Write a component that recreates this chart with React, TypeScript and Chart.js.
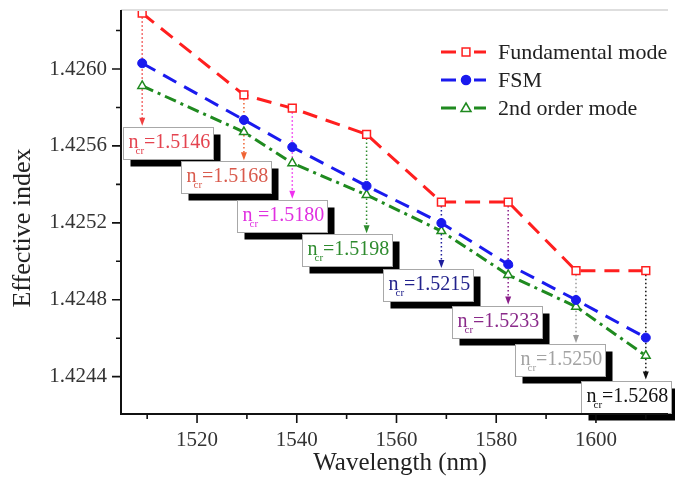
import { useEffect, useRef } from 'react';
import { Chart, registerables } from 'chart.js';

Chart.register(...registerables);

// Wavelength sweep (nm) and effective indices of the three guided modes
const wavelengths = [1509, 1529.4, 1539.1, 1554, 1569, 1582.4, 1596, 1610];
const fundamentalMode = [1.42629, 1.425865, 1.425796, 1.42566, 1.425308, 1.425308, 1.424951, 1.424951];
const fsmMode = [1.42603, 1.425735, 1.425594, 1.425392, 1.425199, 1.424984, 1.424799, 1.424603];
const secondOrderMode = [1.425912, 1.425672, 1.42551, 1.425345, 1.425157, 1.424929, 1.424764, 1.424509];

// Critical cladding index at each wavelength
const criticalIndex = ['1.5146', '1.5168', '1.5180', '1.5198', '1.5215', '1.5233', '1.5250', '1.5268'];

// Axis ticks
const xTickValues = [1510, 1520, 1530, 1540, 1550, 1560, 1570, 1580, 1590, 1600, 1610];
const xTickLabels = [1520, 1540, 1560, 1580, 1600];
const yTickValues = [1.4244, 1.4246, 1.4248, 1.425, 1.4252, 1.4254, 1.4256, 1.4258, 1.426, 1.4262];
const yTickLabels = [1.4244, 1.4248, 1.4252, 1.4256, 1.426];

// Axis ranges
const X_MIN = 1504.75;
const X_MAX = 1614.45;
const Y_MIN = 1.4242059;
const Y_MAX = 1.4263068;

// Callout boxes: upper-left corner in data coordinates, and colours
const calloutLeft = [1505.09, 1516.77, 1528.06, 1540.99, 1557.23, 1571.09, 1583.76, 1597.09];
const calloutTop = [1.4257, 1.42552, 1.42532, 1.42514, 1.42496, 1.42477, 1.42457, 1.42438];
const arrowColors = ['#f04040', '#f06434', '#f030f0', '#2e8b2e', '#1e1e9c', '#8a1e8a', '#9a9a9a', '#111111'];
const textColors = ['#e4434f', '#d95a4c', '#e030e0', '#2e8b2e', '#22228c', '#8a2a8a', '#a2a2a2', '#111111'];

const RED = '#ff1f1f';
const BLUE = '#1a1aee';
const GREEN = '#1f8a1f';
const FONT = "'Liberation Serif', 'Times New Roman', serif";

function drawMarker(ctx: CanvasRenderingContext2D, kind: string, x: number, y: number, color: string) {
  ctx.save();
  ctx.setLineDash([]);
  ctx.lineWidth = 1.5;
  ctx.strokeStyle = color;
  ctx.fillStyle = kind === 'circle' ? color : '#ffffff';
  ctx.beginPath();
  if (kind === 'rect') {
    ctx.rect(x - 3.9, y - 3.9, 7.8, 7.8);
  } else if (kind === 'circle') {
    ctx.arc(x, y, 4.5, 0, Math.PI * 2);
  } else {
    ctx.moveTo(x, y - 5);
    ctx.lineTo(x + 5, y + 3.5);
    ctx.lineTo(x - 5, y + 3.5);
    ctx.closePath();
  }
  ctx.fill();
  ctx.stroke();
  ctx.restore();
}

const framePlugin = {
  id: 'frame',
  afterDraw(chart: any) {
    const { ctx, chartArea } = chart;
    const xs = chart.scales.x;
    const ys = chart.scales.y;
    ctx.save();
    // light top border
    ctx.strokeStyle = '#dedede';
    ctx.lineWidth = 2;
    ctx.beginPath();
    ctx.moveTo(chartArea.left, chartArea.top);
    ctx.lineTo(chartArea.right, chartArea.top);
    ctx.stroke();
    // axis lines
    ctx.strokeStyle = '#111';
    ctx.lineWidth = 2;
    ctx.beginPath();
    ctx.moveTo(chartArea.left, chartArea.top);
    ctx.lineTo(chartArea.left, chartArea.bottom);
    ctx.lineTo(chartArea.right, chartArea.bottom);
    ctx.stroke();
    // tick marks
    ctx.lineWidth = 1.6;
    ctx.beginPath();
    xTickValues.forEach((v) => {
      const px = xs.getPixelForValue(v);
      const len = xTickLabels.includes(v) ? 9 : 5;
      ctx.moveTo(px, chartArea.bottom);
      ctx.lineTo(px, chartArea.bottom + len);
    });
    yTickValues.forEach((v) => {
      const py = ys.getPixelForValue(v);
      const len = yTickLabels.some((t) => Math.abs(t - v) < 1e-7) ? 9 : 5;
      ctx.moveTo(chartArea.left, py);
      ctx.lineTo(chartArea.left - len, py);
    });
    ctx.stroke();

    // axis titles
    ctx.fillStyle = '#222';
    ctx.textAlign = 'center';
    ctx.textBaseline = 'middle';
    ctx.font = `25px ${FONT}`;
    ctx.fillText('Wavelength (nm)', 400, 463);
    ctx.save();
    ctx.translate(23, 228);
    ctx.rotate(-Math.PI / 2);
    ctx.font = `26px ${FONT}`;
    ctx.fillText('Effective index', 0, 0);
    ctx.restore();

    // legend
    const items = [
      { label: 'Fundamental mode', color: RED, kind: 'rect', y: 52 },
      { label: 'FSM', color: BLUE, kind: 'circle', y: 80 },
      { label: '2nd order mode', color: GREEN, kind: 'triangle', y: 108 },
    ];
    items.forEach((it) => {
      ctx.strokeStyle = it.color;
      ctx.lineWidth = 3;
      ctx.setLineDash([]);
      ctx.beginPath();
      ctx.moveTo(441, it.y);
      ctx.lineTo(456, it.y);
      ctx.moveTo(474, it.y);
      ctx.lineTo(486, it.y);
      ctx.stroke();
      drawMarker(ctx, it.kind, 466, it.y, it.color);
      ctx.fillStyle = '#222';
      ctx.textAlign = 'left';
      ctx.textBaseline = 'middle';
      ctx.font = `22px ${FONT}`;
      ctx.fillText(it.label, 498, it.y + 1);
    });
    ctx.restore();
  },
};

const calloutPlugin = {
  id: 'callouts',
  beforeDatasetsDraw(chart: any) {
    const { ctx } = chart;
    const xs = chart.scales.x;
    const ys = chart.scales.y;
    ctx.save();
    wavelengths.forEach((w, i) => {
      const x = xs.getPixelForValue(w);
      const y0 = ys.getPixelForValue(fundamentalMode[i]);
      const tip = ys.getPixelForValue(calloutTop[i]) - 1;
      ctx.strokeStyle = arrowColors[i];
      ctx.fillStyle = arrowColors[i];
      ctx.lineWidth = 1.5;
      ctx.setLineDash([1.5, 2.5]);
      ctx.beginPath();
      ctx.moveTo(x, y0);
      ctx.lineTo(x, tip - 7);
      ctx.stroke();
      ctx.setLineDash([]);
      ctx.beginPath();
      ctx.moveTo(x - 3, tip - 8);
      ctx.lineTo(x + 3, tip - 8);
      ctx.lineTo(x, tip);
      ctx.closePath();
      ctx.fill();
    });
    ctx.restore();
  },
  afterDatasetsDraw(chart: any) {
    const { ctx } = chart;
    const xs = chart.scales.x;
    const ys = chart.scales.y;
    ctx.save();
    criticalIndex.forEach((val, i) => {
      const bx = Math.round(xs.getPixelForValue(calloutLeft[i])) + 0.5;
      const by = Math.round(ys.getPixelForValue(calloutTop[i])) + 0.5;
      const w = 90;
      const h = 32;
      ctx.fillStyle = '#000';
      ctx.fillRect(bx + 7, by + 7, w, h);
      ctx.fillStyle = '#fff';
      ctx.fillRect(bx, by, w, h);
      ctx.strokeStyle = '#a8a8a8';
      ctx.lineWidth = 1;
      ctx.strokeRect(bx, by, w, h);

      const x0 = bx + 5;
      const base = by + 20;
      ctx.fillStyle = textColors[i];
      ctx.textAlign = 'left';
      ctx.textBaseline = 'alphabetic';
      ctx.font = `20px ${FONT}`;
      ctx.fillText('n', x0, base);
      const nW = ctx.measureText('n').width;
      ctx.font = `11px ${FONT}`;
      ctx.fillText('cr', x0 + nW - 3, base + 6);
      const subW = ctx.measureText('cr').width;
      ctx.font = `20px ${FONT}`;
      ctx.fillText('=' + val, x0 + nW - 3 + subW, base);
    });
    ctx.restore();
  },
};

export default function App() {
  const canvasRef = useRef<HTMLCanvasElement | null>(null);

  useEffect(() => {
    document.body.style.margin = '0';
    const canvas = canvasRef.current;
    if (!canvas) return;

    const toPoints = (vals: number[]) => wavelengths.map((w, i) => ({ x: w, y: vals[i] }));

    const chart = new Chart(canvas, {
      type: 'line',
      data: {
        datasets: [
          {
            label: 'Fundamental mode',
            data: toPoints(fundamentalMode),
            borderColor: RED,
            borderWidth: 3,
            borderDash: [15, 9],
            pointStyle: 'rect',
            pointRadius: 5.5,
            pointBorderWidth: 1.5,
            pointBackgroundColor: '#ffffff',
            pointBorderColor: RED,
            tension: 0,
          },
          {
            label: 'FSM',
            data: toPoints(fsmMode),
            borderColor: BLUE,
            borderWidth: 3,
            borderDash: [15, 9],
            pointStyle: 'circle',
            pointRadius: 4.5,
            pointBorderWidth: 1,
            pointBackgroundColor: BLUE,
            pointBorderColor: BLUE,
            tension: 0,
          },
          {
            label: '2nd order mode',
            data: toPoints(secondOrderMode),
            borderColor: GREEN,
            borderWidth: 3,
            borderDash: [12, 5, 3, 5],
            pointStyle: 'triangle',
            pointRadius: 5,
            pointBorderWidth: 1.5,
            pointBackgroundColor: '#ffffff',
            pointBorderColor: GREEN,
            tension: 0,
          },
        ],
      },
      options: {
        responsive: false,
        animation: false,
        events: [],
        layout: { padding: { top: 10, right: 0, left: 0, bottom: 0 } },
        plugins: {
          legend: { display: false },
          tooltip: { enabled: false },
          title: { display: false },
        },
        scales: {
          x: {
            type: 'linear',
            min: X_MIN,
            max: X_MAX,
            grid: { display: false, drawTicks: false },
            border: { display: false },
            afterBuildTicks: (scale: any) => {
              scale.ticks = xTickValues.map((v) => ({ value: v }));
            },
            afterFit: (scale: any) => {
              scale.height = 70;
              scale.paddingLeft = 0;
              scale.paddingRight = 0;
            },
            ticks: {
              autoSkip: false,
              maxRotation: 0,
              padding: 14,
              color: '#333',
              font: { family: FONT, size: 21 },
              callback: (v: any) => (xTickLabels.includes(Number(v)) ? String(v) : ''),
            },
          },
          y: {
            type: 'linear',
            min: Y_MIN,
            max: Y_MAX,
            grid: { display: false, drawTicks: false },
            border: { display: false },
            afterBuildTicks: (scale: any) => {
              scale.ticks = yTickValues.map((v) => ({ value: v }));
            },
            afterFit: (scale: any) => {
              scale.width = 121;
              scale.paddingTop = 0;
              scale.paddingBottom = 0;
            },
            ticks: {
              autoSkip: false,
              padding: 14,
              color: '#333',
              font: { family: FONT, size: 21 },
              callback: (v: any) => {
                const n = Number(v);
                return yTickLabels.some((t) => Math.abs(t - n) < 1e-7) ? n.toFixed(4) : '';
              },
            },
          },
        },
      },
      plugins: [calloutPlugin, framePlugin],
    });

    return () => {
      chart.destroy();
    };
  }, []);

  return (
    <div style={{ width: 675, height: 484, position: 'relative', background: '#fff' }}>
      <canvas ref={canvasRef} width={675} height={484} style={{ display: 'block' }} />
    </div>
  );
}
